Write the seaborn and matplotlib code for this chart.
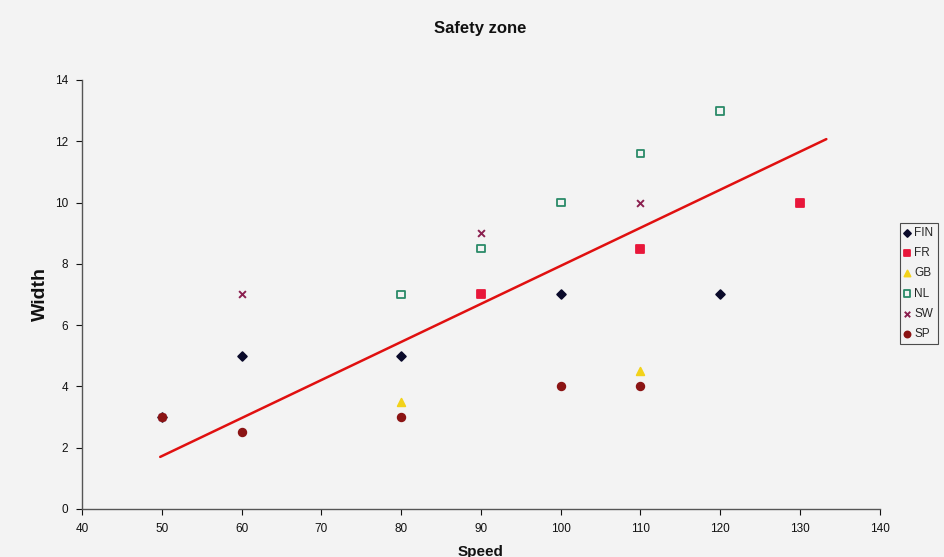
import matplotlib
matplotlib.use("Agg")
import matplotlib.pyplot as plt
import seaborn as sns
import pandas as pd

sns.set_theme(style="white")
plt.rcParams['font.family'] = ['Liberation Sans', 'DejaVu Sans']

# Data
fin_x = [50, 60, 80, 100, 120]
fin_y = [3, 5, 5, 7, 7]
fr_x = [90, 110, 130]
fr_y = [7, 8.5, 10]
gb_x = [80, 110]
gb_y = [3.5, 4.5]
nl_x = [80, 90, 100, 110, 120]
nl_y = [7, 8.5, 10, 11.6, 13]
sw_x = [50, 60, 90, 110]
sw_y = [3, 7, 9, 10]
sp_x = [50, 60, 80, 100, 110]
sp_y = [3, 2.5, 3, 4, 4]
trend_x = [49.8, 133.3]
trend_y = [1.7, 12.07]

x_ticks = [40, 50, 60, 70, 80, 90, 100, 110, 120, 130, 140]
y_ticks = [0, 2, 4, 6, 8, 10, 12, 14]

bg = '#f3f3f3'
fig = plt.figure(figsize=(9.45, 5.57), dpi=100, facecolor=bg)
ax = fig.add_axes([0.0868, 0.0862, 0.8442, 0.7702])
ax.set_facecolor(bg)

sns.lineplot(x=trend_x, y=trend_y, color='#e01010', linewidth=1.8, ax=ax, legend=False)

series = [
    ("FIN", fin_x, fin_y, 'D', '#0a0a2a', '#0a0a2a', 20),
    ("FR", fr_x, fr_y, 's', '#e8173a', '#e8173a', 36),
    ("GB", gb_x, gb_y, '^', '#f2d21a', '#f2d21a', 30),
    ("NL", nl_x, nl_y, 's', 'none', '#2a8a68', 32),
    ("SW", sw_x, sw_y, 'x', '#8b2050', '#8b2050', 24),
    ("SP", sp_x, sp_y, 'o', '#8b1414', '#8b1414', 30),
]
for name, xs, ys, m, fc, ec, s in series:
    df = pd.DataFrame({"Speed": xs, "Width": ys})
    if m == 'x':
        sns.scatterplot(data=df, x="Speed", y="Width", marker=m, color=ec, s=s,
                        linewidth=1.4, ax=ax, label=name, zorder=3)
    else:
        sns.scatterplot(data=df, x="Speed", y="Width", marker=m, facecolor=fc,
                        edgecolor=ec, s=s, linewidth=1.3, ax=ax, label=name, zorder=3)

ax.set_xlim(40, 140)
ax.set_ylim(0, 14)
ax.set_xticks(x_ticks)
ax.set_yticks(y_ticks)
ax.tick_params(axis='both', labelsize=8.5, length=4, width=0.8, direction='out',
               colors='#111111', bottom=True, left=True, pad=6)
for sp in ['top', 'right']:
    ax.spines[sp].set_visible(False)
for sp in ['left', 'bottom']:
    ax.spines[sp].set_color('#555555')
    ax.spines[sp].set_linewidth(1.0)

ax.set_xlabel("Speed", fontsize=11, fontweight='bold', labelpad=7, color='#111111')
ax.set_ylabel("Width", fontsize=14, fontweight='bold', color='#111111')
ax.yaxis.set_label_coords(-0.042, 0.5)
fig.text(0.508, 0.948, "Safety zone", ha='center', va='center', fontsize=12,
         fontweight='bold', color='#111111')

leg = ax.legend(loc='upper left', bbox_to_anchor=(0.952, 0.600),
                bbox_transform=fig.transFigure, fontsize=8.5, frameon=True,
                fancybox=False, edgecolor='#222222', handlelength=0.6,
                handletextpad=0.3, borderpad=0.35, labelspacing=0.7,
                borderaxespad=0, markerscale=0.8)
leg.get_frame().set_linewidth(0.8)
leg.get_frame().set_facecolor(bg)

fig.savefig("out.png", dpi=100, facecolor=bg)
